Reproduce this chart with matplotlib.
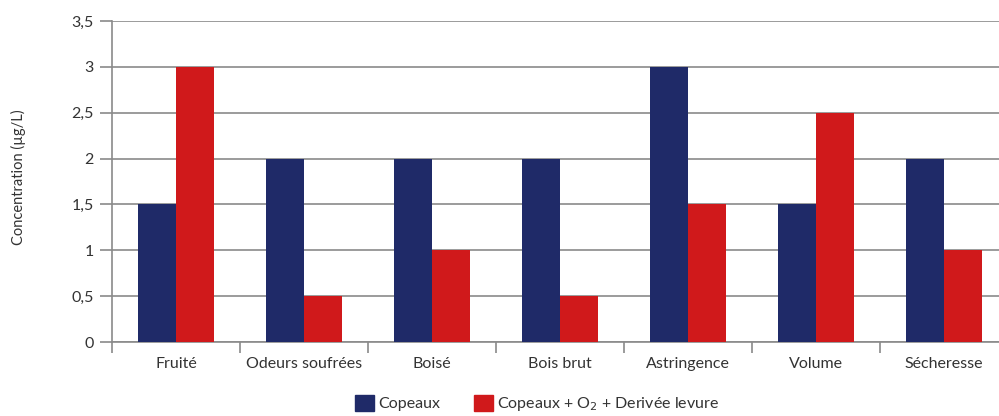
#!/usr/bin/env python3
import matplotlib
matplotlib.use('Agg')
import matplotlib.pyplot as plt
import numpy as np
from matplotlib.ticker import FuncFormatter, FixedLocator
from matplotlib.patches import Patch

CATEGORIES = ['Fruité', 'Odeurs soufrées', 'Boisé', 'Bois brut', 'Astringence', 'Volume', 'Sécheresse']
COPEAUX = [1.5, 2, 2, 2, 3, 1.5, 2]
COPEAUX_O2 = [3, 0.5, 1, 0.5, 1.5, 2.5, 1]
SERIES = ['Copeaux', 'Copeaux + O$_2$ + Derivée levure']

BLUE = '#1f2a68'
RED = '#d0191b'
GREY = '#8a8a8a'
TEXT = '#333333'

plt.rcParams['font.family'] = ['Lato', 'DejaVu Sans']

fig = plt.figure(figsize=(9.99, 4.16), dpi=100)
# axes run past the right edge of the figure
ax = fig.add_axes([112/999, 1 - 342/416, 896/999, (342 - 21)/416])

x = np.arange(len(CATEGORIES))
w = 0.297
ax.bar(x - w/2, COPEAUX, w, color=BLUE, zorder=3)
ax.bar(x + w/2, COPEAUX_O2, w, color=RED, zorder=3)

ax.set_xlim(-0.5, len(CATEGORIES) - 0.5)
ax.set_ylim(0, 3.5)
ax.set_yticks(np.arange(0, 3.51, 0.5))
ax.yaxis.set_major_formatter(FuncFormatter(lambda v, p: ('%g' % v).replace('.', ',')))
ax.grid(axis='y', color=GREY, linewidth=1.2, zorder=0)

ax.set_xticks(x)
ax.set_xticklabels(CATEGORIES)
ax.xaxis.set_minor_locator(FixedLocator(np.arange(-0.5, len(CATEGORIES), 1.0)))
ax.tick_params(axis='x', which='major', length=0, pad=11, labelsize=11.5, labelcolor=TEXT)
ax.tick_params(axis='x', which='minor', length=8, width=1.2, color=GREY)
ax.tick_params(axis='y', length=9, width=1.2, color=GREY, labelsize=11.5, labelcolor=TEXT, pad=4)

for s in ['top', 'right']:
    ax.spines[s].set_visible(False)
for s in ['left', 'bottom']:
    ax.spines[s].set_color(GREY)
    ax.spines[s].set_linewidth(1.2)

fig.text(18/999, 1 - 177/416, 'Concentration (µg/L)', rotation=90, ha='center', va='center',
         fontsize=10.5, color=TEXT)

handles = [Patch(color=BLUE), Patch(color=RED)]
fig.legend(handles, SERIES, loc='center', bbox_to_anchor=(537/999, 1 - 404/416), ncol=2,
           frameon=False, fontsize=11.5, handlelength=1.2, handleheight=1.2,
           handletextpad=0.25, columnspacing=2.1, labelcolor=TEXT)

fig.savefig('out.png', dpi=100)
